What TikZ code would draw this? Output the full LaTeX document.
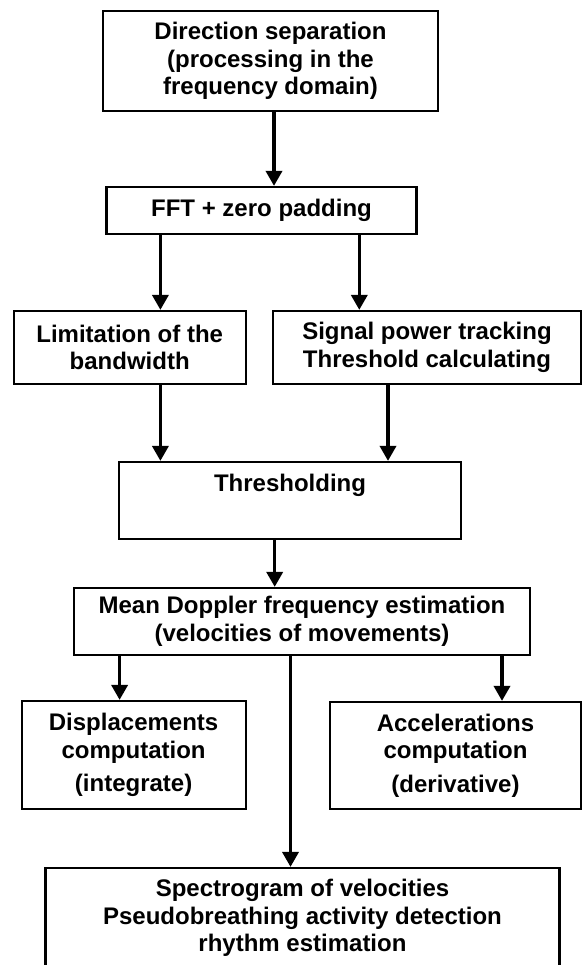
\documentclass[tikz,border=0pt]{standalone}
\usepackage{fontspec}
\setmainfont{Liberation Sans}
\usetikzlibrary{arrows.meta}

\begin{document}
\begin{tikzpicture}[x=1pt,y=-1pt,>={Triangle[length=15pt,width=16pt]},
		box/.style={draw,line width=2.2pt,align=center,inner sep=0pt,font=\fontsize{24}{27.5}\selectfont\bfseries},
		arr/.style={->,line width=3.5pt}]
		\clip (0,0) rectangle (582,965);
		\node[box,minimum width=335pt,minimum height=100pt] (dir) at (270.5,61) {Direction separation\\(processing in the\\frequency domain)};
		\node[box,minimum width=310pt,minimum height=47pt] (fft) at (261.5,210.5) {FFT + zero padding};
		\node[box,minimum width=232pt,minimum height=73pt] (lim) at (129.7,347.5) {Limitation of the\\bandwidth};
		\node[box,minimum width=308pt,minimum height=73pt] (sig) at (427,347.5) {Signal power tracking\\Threshold calculating};
		\node[box,minimum width=342pt,minimum height=77pt] (thr) at (290,500.5) {Thresholding\\\strut};
		\node[box,minimum width=456pt,minimum height=67pt] (mean) at (302,621.5) {Mean Doppler frequency estimation\\(velocities of movements)};
		\node[box,minimum width=224pt,minimum height=108pt] (disp) at (133.6,755) {Displacements\\computation\\[6pt](integrate)};
		\node[box,minimum width=251pt,minimum height=107pt] (acc) at (455.5,755.5) {Accelerations\\computation\\[6pt](derivative)};
		\node[box,minimum width=514pt,minimum height=100pt] (spec) at (302.5,918) {Spectrogram of velocities\\Pseudobreathing activity detection\\rhythm estimation};

		\draw[arr] ([xshift=3.5pt]dir.south) -- ([xshift=3.5pt]dir.south |- fft.north);
		\draw[arr] ([xshift=30.7pt]lim.north |- fft.south) -- ([xshift=30.7pt]lim.north);
		\draw[arr] ([xshift=-67.7pt]sig.north |- fft.south) -- ([xshift=-67.7pt]sig.north);
		\draw[arr] ([xshift=30.7pt]lim.south) -- ([xshift=30.7pt]lim.south |- thr.north);
		\draw[arr] ([xshift=-39pt]sig.south) -- ([xshift=-39pt]sig.south |- thr.north);
		\draw[arr] ([xshift=-15.3pt]thr.south) -- ([xshift=-15.3pt]thr.south |- mean.north);
		\draw[arr] ([xshift=-14pt]disp.north |- mean.south) -- ([xshift=-14pt]disp.north);
		\draw[arr] ([xshift=-12pt]spec.north |- mean.south) -- ([xshift=-12pt]spec.north);
		\draw[arr] ([xshift=46.5pt]acc.north |- mean.south) -- ([xshift=46.5pt]acc.north);
	\end{tikzpicture}
\end{document}
